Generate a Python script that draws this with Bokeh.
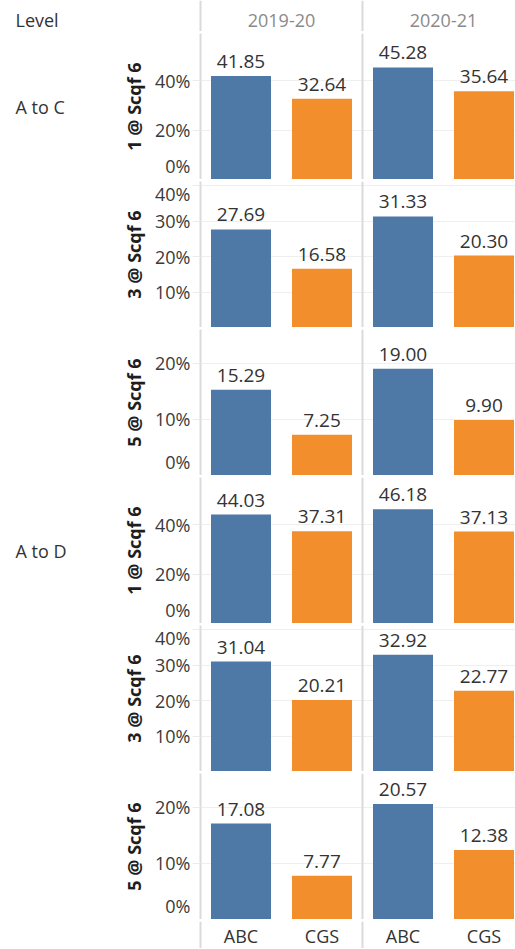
from bokeh.plotting import figure
from bokeh.layouts import column, row
from bokeh.models import Range1d, FixedTicker, PrintfTickFormatter, Span, ColumnDataSource, LabelSet
from bokeh.core.properties import value
from bokeh.embed import file_html
from bokeh.resources import INLINE

# ---------------- data ----------------
levels = ["A to C", "A to D"]
measures = ["1 @ Scqf 6", "3 @ Scqf 6", "5 @ Scqf 6"]
years = ["2019-20", "2020-21"]
centres = ["ABC", "CGS"]

# values per measure (1 @, 3 @, 5 @ Scqf 6)
a_to_c_abc_2019 = [41.85, 27.69, 15.29]
a_to_c_cgs_2019 = [32.64, 16.58, 7.25]
a_to_c_abc_2020 = [45.28, 31.33, 19.00]
a_to_c_cgs_2020 = [35.64, 20.30, 9.90]
a_to_d_abc_2019 = [44.03, 31.04, 17.08]
a_to_d_cgs_2019 = [37.31, 20.21, 7.77]
a_to_d_abc_2020 = [46.18, 32.92, 20.57]
a_to_d_cgs_2020 = [37.13, 22.77, 12.38]

axis_max = [59.0, 41.2, 26.0]
axis_ticks = [[0, 20, 40], [10, 20, 30, 40], [0, 10, 20]]

series = {
    ("A to C", "2019-20", "ABC"): a_to_c_abc_2019,
    ("A to C", "2019-20", "CGS"): a_to_c_cgs_2019,
    ("A to C", "2020-21", "ABC"): a_to_c_abc_2020,
    ("A to C", "2020-21", "CGS"): a_to_c_cgs_2020,
    ("A to D", "2019-20", "ABC"): a_to_d_abc_2019,
    ("A to D", "2019-20", "CGS"): a_to_d_cgs_2019,
    ("A to D", "2020-21", "ABC"): a_to_d_abc_2020,
    ("A to D", "2020-21", "CGS"): a_to_d_cgs_2020,
}
colors = {"ABC": "#4e79a7", "CGS": "#f28e2b"}

# ---------------- geometry / style ----------------
FONT = value("Open Sans")
LEVEL_W = 107
LABEL_W = 93
BAND = 81.0
PANE_W = 315
PANEL_H = 146
HEADER_H = 31
XSTRIP_H = 27
DIV_H = 2
FULL_W = LEVEL_W + LABEL_W + PANE_W
LINE = "#dadada"
X_END = PANE_W / BAND
X_START_FULL = -(LEVEL_W + LABEL_W) / BAND


def base_fig(w, h, xr, yr):
    p = figure(width=w, height=h, x_range=xr, y_range=yr,
               output_backend="svg", toolbar_location=None,
               x_axis_location=None, y_axis_location=None,
               min_border_left=0, min_border_right=0,
               min_border_top=0, min_border_bottom=0)
    p.xgrid.visible = False
    p.ygrid.visible = False
    p.outline_line_color = None
    return p


def divider(w):
    p = base_fig(w, DIV_H, Range1d(0, 1), Range1d(0, 1))
    p.background_fill_color = LINE
    p.border_fill_color = LINE
    return p


def panel(level, mi):
    xs, tops, cols, labs = [], [], [], []
    for j, yr in enumerate(years):
        for k, c in enumerate(centres):
            v = series[(level, yr, c)][mi]
            xs.append(2 * j + k + 0.5)
            tops.append(v)
            cols.append(colors[c])
            labs.append("%.2f" % v)
    src = ColumnDataSource(dict(x=xs, top=tops, color=cols, label=labs))
    p = figure(width=LABEL_W + PANE_W, height=PANEL_H,
               x_range=Range1d(0, X_END), y_range=Range1d(0, axis_max[mi]),
               output_backend="svg", toolbar_location=None,
               x_axis_location=None, y_axis_location="left",
               min_border_left=LABEL_W, min_border_right=0,
               min_border_top=0, min_border_bottom=0)
    p.outline_line_color = None
    p.xgrid.visible = False
    p.ygrid.grid_line_color = "#efefef"
    p.vbar(x="x", top="top", bottom=0, width=60 / BAND, source=src,
           fill_color="color", line_color=None)
    p.add_layout(LabelSet(x="x", y="top", text="label", source=src, text_align="center",
                          text_baseline="alphabetic", y_offset=8, text_font=FONT,
                          text_font_size="19px", text_color="#333333"))
    p.add_layout(Span(location=2, dimension="height", line_color=LINE, line_width=2))
    ax = p.yaxis[0]
    ax.ticker = FixedTicker(ticks=axis_ticks[mi])
    ax.formatter = PrintfTickFormatter(format="%d%%")
    if 0 in axis_ticks[mi]:
        ax.major_label_overrides = {0: "0%\n "}
        ax.major_label_text_line_height = 0.06
    ax.axis_line_color = LINE
    ax.axis_line_width = 2
    ax.major_tick_out = 8
    ax.major_tick_in = 0
    ax.major_tick_line_color = "#ececec"
    ax.minor_tick_out = 0
    ax.minor_tick_in = 0
    ax.major_label_standoff = 2
    ax.major_label_text_font = "Open Sans"
    ax.major_label_text_font_size = "18px"
    ax.major_label_text_color = "#3a3a3a"
    ax.axis_label = measures[mi]
    ax.axis_label_text_font = "Open Sans"
    ax.axis_label_text_font_style = "bold"
    ax.axis_label_text_font_size = "18px"
    ax.axis_label_text_color = "#1e1e1e"
    ax.axis_label_standoff = 6
    return p


def level_fig(level):
    h = 3 * PANEL_H + 2 * DIV_H
    p = base_fig(LEVEL_W, h, Range1d(0, LEVEL_W), Range1d(0, len(measures)))
    p.text(x=[15], y=[len(measures) - 0.5], text=[level], text_align="left",
           text_baseline="middle", text_font=FONT, text_font_size="18px",
           text_color="#333333")
    return p


def strip(height):
    p = base_fig(FULL_W, height, Range1d(X_START_FULL, X_END), Range1d(0, 1))
    p.add_layout(Span(location=0, dimension="height", line_color=LINE, line_width=2))
    p.add_layout(Span(location=2, dimension="height", line_color=LINE, line_width=2))
    return p


# header
header = strip(HEADER_H)
header.text(x=[X_START_FULL + 15 / BAND], y=[0.37], text=["Level"], text_align="left",
            text_baseline="middle", text_font=FONT, text_font_size="18px",
            text_color="#333333")
header.text(x=[2 * j + 1 for j in range(len(years))], y=[0.37] * len(years), text=years,
            text_align="center", text_baseline="middle", text_font=FONT,
            text_font_size="18px", text_color="#8a8a8a")

# x-axis strip
xstrip = strip(XSTRIP_H)
xl, xt = [], []
for j, yr in enumerate(years):
    for k, c in enumerate(centres):
        xl.append(2 * j + k + 0.5)
        xt.append(c)
xstrip.text(x=xl, y=[0.47] * len(xl), text=xt, text_align="center",
            text_baseline="middle", text_font=FONT, text_font_size="18px",
            text_color="#333333")

children = [header, divider(FULL_W)]
for level in levels:
    col_items = []
    for mi in range(len(measures)):
        if mi > 0:
            col_items.append(divider(LABEL_W + PANE_W))
        col_items.append(panel(level, mi))
    children.append(row(level_fig(level), column(*col_items, spacing=0), spacing=0))
    children.append(divider(FULL_W))
children.append(xstrip)

layout = column(*children, spacing=0)

open("out.html", "w").write(file_html(layout, INLINE))
